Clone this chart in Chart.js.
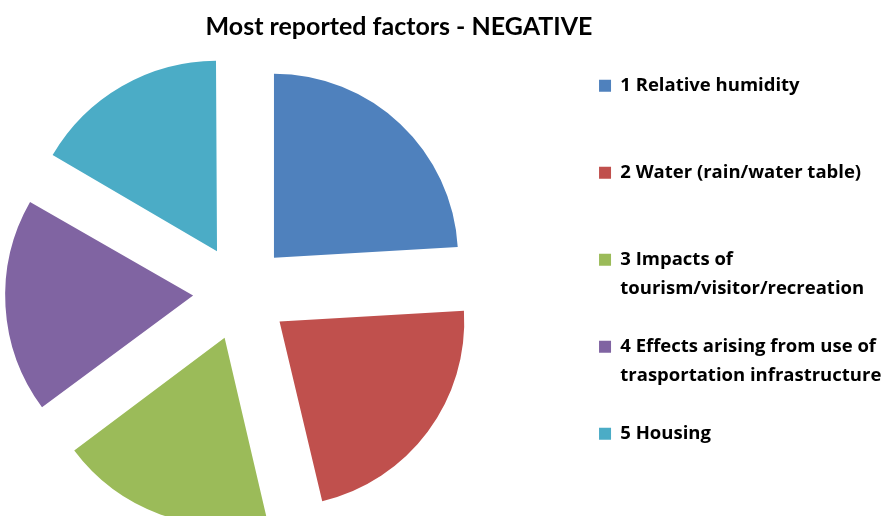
<!DOCTYPE html>
<html>
<head>
<meta charset="utf-8">
<title>Most reported factors - NEGATIVE</title>
<script src="https://cdn.jsdelivr.net/npm/chart.js@4.4.1/dist/chart.umd.min.js"></script>
<style>
    html, body { margin: 0; padding: 0; background: #fff; overflow: hidden; }
    body { width: 883px; height: 516px; position: relative; }
    /* canvas is a bit larger than the page so the pie sits left of the centred title */
    #wrap { position: absolute; left: -88px; top: 0; width: 974px; height: 538px; }
</style>
</head>
<body>
<div id="wrap"><canvas id="factorsChart"></canvas></div>
<script>
// Number of reports per negative factor
const factors = [
    ['1 Relative humidity', ''],
    ['2 Water (rain/water table)', ''],
    ['3 Impacts of', 'tourism/visitor/recreation'],
    ['4 Effects arising from use of', 'trasportation infrastructure'],
    ['5 Housing', '']
];
const reports = [13, 12, 10, 10, 9];
const sliceColors = ['#4f81bd', '#c0504d', '#9bbb59', '#8064a2', '#4bacc6'];

window.onload = function() {
    const ctx = document.getElementById('factorsChart').getContext('2d');

    const data = {
        labels: factors,
        datasets: [{
            label: 'Reports',
            data: reports,
            backgroundColor: sliceColors,
            borderWidth: 0,
            offset: 192 // exploded slices
        }]
    };

    const options = {
        responsive: true,
        maintainAspectRatio: false,
        animation: false,
        radius: 184,
        layout: {
            padding: 0
        },
        plugins: {
            title: {
                display: true,
                text: 'Most reported factors - NEGATIVE',
                color: '#000',
                font: { family: 'Lato', size: 25, weight: 'bold', lineHeight: 1.2 },
                padding: { top: 12, bottom: 5.5 }
            },
            legend: {
                position: 'right',
                align: 'start',
                fullSize: false,
                maxWidth: 318,
                labels: {
                    color: '#000',
                    boxWidth: 12,
                    boxHeight: 12,
                    padding: 29,
                    font: { family: 'Open Sans', size: 18.5, weight: 'bold', lineHeight: 29 / 18.5 }
                }
            },
            tooltip: { enabled: false }
        }
    };

    new Chart(ctx, {
        type: 'pie',
        data: data,
        options: options
    });
};
</script>
</body>
</html>
